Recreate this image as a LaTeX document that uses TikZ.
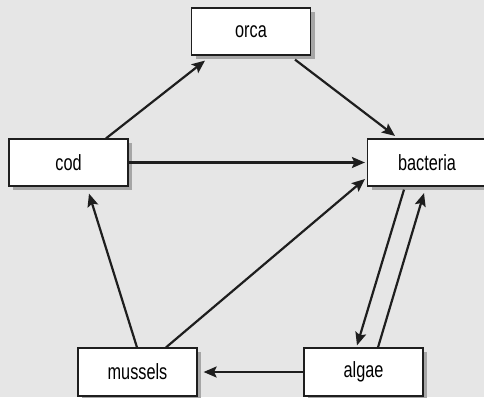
\documentclass[tikz,border=0pt]{standalone}
\usepackage{fontspec}
\setmainfont[FakeStretch=0.74]{Liberation Sans}
\usetikzlibrary{arrows.meta,shadows}
\definecolor{bg}{HTML}{E6E6E6}
\definecolor{shd}{HTML}{A6A6A6}
\definecolor{ink}{HTML}{1E1E1E}
\tikzset{
  box/.style={draw=ink, line width=1.2pt, fill=white, minimum width=119pt, minimum height=47pt,
    inner sep=0pt, font=\fontsize{22}{25}\selectfont,
    drop shadow={shadow xshift=4pt, shadow yshift=-4pt, fill=shd, opacity=1}},
  arr/.style={draw=ink, line width=2.2pt, -{Stealth[length=13pt,width=11pt,inset=2.5pt]}}
}
\begin{document}
\begin{tikzpicture}[x=1pt,y=-1pt]
\fill[bg] (0,0) rectangle (484,397);
\useasboundingbox (0,0) rectangle (484,397);
\node[box] (orca) at (251,31.5) {orca};
\node[box] (cod) at (68.5,162.5) {cod};
\node[box] (bacteria) at (427,162.5) {bacteria};
\node[box, minimum height=48pt] (mussels) at (137.5,372) {mussels};
\node[box, minimum height=48pt] (algae) at (363.5,372) {algae};
\draw[arr] ([xshift=37.5pt]cod.north) -- ([xshift=-46pt,yshift=-5pt]orca.south);
\draw[arr] ([xshift=44pt,yshift=-4pt]orca.south) -- ([xshift=-32pt,yshift=2.5pt]bacteria.north);
\draw[arr] (cod.east) -- ([xshift=-2pt]bacteria.west);
\draw[arr] ([xshift=-0.5pt]mussels.north) -- ([xshift=20.5pt,yshift=-7pt]cod.south);
\draw[arr] ([xshift=28.5pt]mussels.north) -- ([xshift=-2pt,yshift=-16.5pt]bacteria.west);
\draw[arr] ([xshift=-23pt,yshift=-3pt]bacteria.south) -- ([xshift=-6.5pt,yshift=2pt]algae.north);
\draw[arr] ([xshift=14.5pt]algae.north) -- ([xshift=-3pt,yshift=-6.5pt]bacteria.south);
\draw[arr] (algae.west) -- ([xshift=6pt]mussels.east);
\end{tikzpicture}
\end{document}
